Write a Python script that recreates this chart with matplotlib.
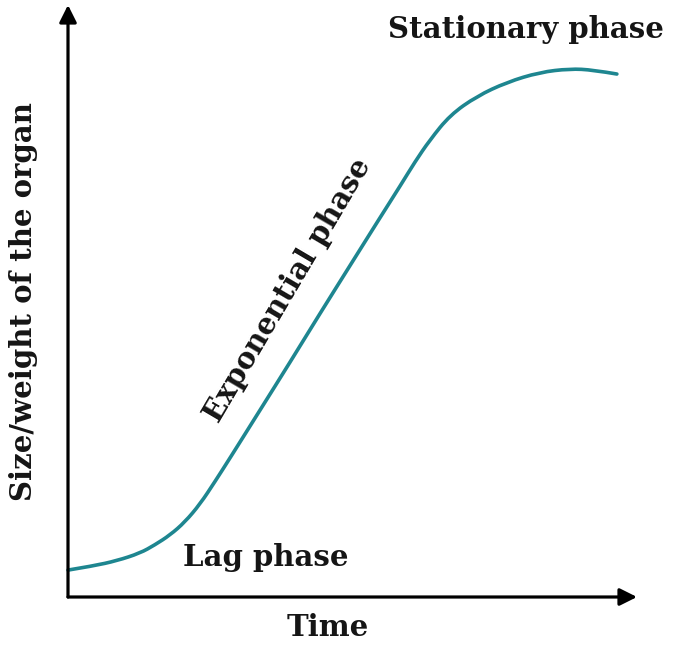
import matplotlib.pyplot as plt
from matplotlib.path import Path
from matplotlib.patches import PathPatch

# growth curve (time, size), arbitrary units
time = [0, 4.4, 8.6, 12.7, 15.3, 18.0, 20.6, 23.3, 25.9, 28.6, 33.9, 39.2,
        44.4, 49.7, 55.0, 58.6, 61.2, 63.8, 67.4, 72.1, 77.4, 83.2, 88.5,
        92.6, 96.8]
size = [4.6, 5.3, 6.2, 7.5, 8.9, 10.6, 12.8, 15.9, 19.7, 23.8, 32.0, 40.2,
        48.4, 56.6, 64.8, 70.3, 74.4, 78.1, 82.4, 85.6, 88.0, 89.7, 90.3,
        90.1, 89.4]

x_label = "Time"
y_label = "Size/weight of the organ"
phases = ["Lag phase", "Exponential phase", "Stationary phase"]

fig = plt.figure(figsize=(6.74, 6.45), dpi=100)
ax = fig.add_axes([68 / 674, 48 / 645, 569 / 674, 592 / 645])
ax.set_xlim(0, 100.35)
ax.set_ylim(0, 101.2)
ax.axis("off")

# smooth the read points with quadratic segments (points act as controls)
pts = list(zip(time, size))
verts = [pts[0]]
codes = [Path.MOVETO]
for i in range(1, len(pts) - 1):
    mid = ((pts[i][0] + pts[i + 1][0]) / 2, (pts[i][1] + pts[i + 1][1]) / 2)
    if i == len(pts) - 2:
        mid = pts[-1]
    verts += [pts[i], mid]
    codes += [Path.CURVE3, Path.CURVE3]
ax.add_patch(PathPatch(Path(verts, codes), fill=False, edgecolor="#1e8690",
                       lw=2.6, capstyle="round", joinstyle="round", clip_on=False))

# axes with arrow heads
arrow = dict(arrowstyle="-|>", lw=2.3, color="k", mutation_scale=26,
             shrinkA=0, shrinkB=0)
ax.annotate("", xy=(0, 1), xytext=(0, 0), xycoords="axes fraction", arrowprops=arrow)
ax.annotate("", xy=(1, 0), xytext=(0, 0), xycoords="axes fraction", arrowprops=arrow)

font = dict(family="DejaVu Serif", color="#151515", fontsize=21, fontweight="bold")
fig.text(328 / 674, 1 - 628 / 645, x_label, ha="center", va="center", **font)
fig.text(24 / 674, 1 - 302 / 645, y_label, ha="center", va="center",
         rotation=90, **font)
fig.text(266 / 674, 1 - 557 / 645, phases[0], ha="center", va="center", **font)
fig.text(288 / 674, 1 - 290 / 645, phases[1], ha="center", va="center",
         rotation=59.5, rotation_mode="anchor", **font)
fig.text(526 / 674, 1 - 30 / 645, phases[2], ha="center", va="center", **font)

fig.savefig("out.png", dpi=100)
